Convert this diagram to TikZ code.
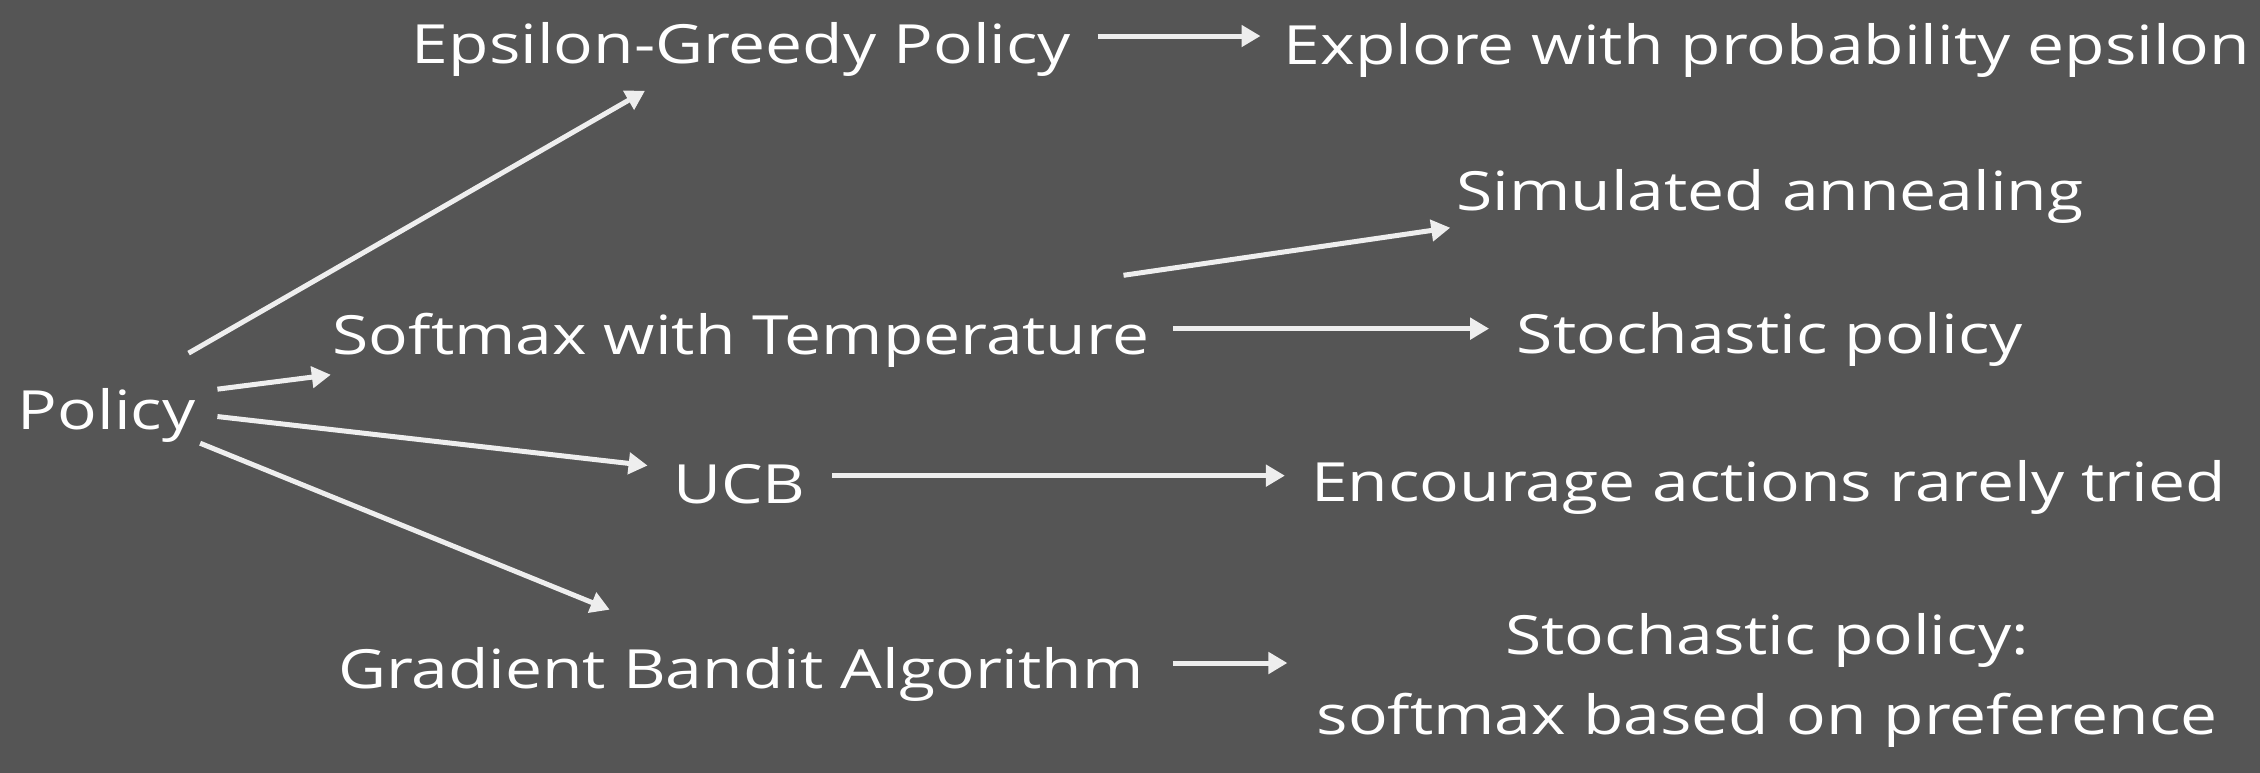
\documentclass[tikz,border=0pt]{standalone}
\usepackage{fontspec}
\setmainfont[FakeStretch=1.22]{Open Sans}
\usetikzlibrary{calc,arrows.meta}
\definecolor{board}{RGB}{85,85,85}
\definecolor{chalk}{RGB}{238,238,238}
\begin{document}
\begin{tikzpicture}[x=0.72pt,y=-0.72pt,
  lbl/.style={text=white,inner sep=0pt,anchor=base,font=\fontsize{27}{40.3}\selectfont},
  arr/.style={draw=chalk,line width=2.5pt,-{Triangle[length=9.5pt,width=10.5pt]}}]
\fill[board] (0,0) rectangle (1568,536);
\useasboundingbox (0,0) rectangle (1568,536);
% nodes
\node[lbl] (pol)  at (74,298)   {Policy};
\node[lbl] (eps)  at (514.5,44) {Epsilon-Greedy Policy};
\node[lbl] (exp)  at (1226,45)  {Explore with probability epsilon};
\node[lbl] (sim)  at (1228,146) {Simulated annealing};
\node[lbl] (soft) at (514,246)  {Softmax with Temperature};
\node[lbl] (sto)  at (1228,245) {Stochastic policy};
\node[lbl] (ucb)  at (513,349)  {UCB};
\node[lbl] (enc)  at (1227,348) {Encourage actions rarely tried};
\node[lbl] (grad) at (514,478)  {Gradient Bandit Algorithm};
\node[lbl,align=center,anchor=center] (pref) at (1226,472) {Stochastic policy:\\softmax based on preference};
% arrows from Policy
\draw[arr] ($(pol.base east)+(-5,-53)$) -- ($(eps.base)+(-67,19)$);
\draw[arr] ($(pol.base east)+(15,-28)$) -- ($(soft.base west)+(-1,14)$);
\draw[arr] ($(pol.base east)+(15,-9)$) -- ($(ucb.base west)+(-17.5,-26)$);
\draw[arr] ($(pol.base east)+(3,9.5)$) -- ($(grad.base)+(-91,-55)$);
% horizontal arrows
\draw[arr,shorten <=13pt,shorten >=11.5pt] ($(eps.base east)+(0,-19)$) coordinate (e1) -- (e1 -| exp.west);
\draw[arr,shorten <=12pt,shorten >=13.7pt] ($(soft.base east)+(0,-18)$) coordinate (s1) -- (s1 -| sto.west);
\draw[arr,shorten <=13pt,shorten >=13pt] ($(ucb.base east)+(0,-19)$) coordinate (u1) -- (u1 -| enc.west);
\draw[arr,shorten <=14.4pt,shorten >=14.4pt] ($(grad.base east)+(0,-18)$) coordinate (g1) -- (g1 -| pref.west);
% softmax to simulated annealing
\draw[arr] ($(soft.base east)+(-18,-55)$) -- ($(sim.base west)+(-4,12)$);
\end{tikzpicture}
\end{document}
